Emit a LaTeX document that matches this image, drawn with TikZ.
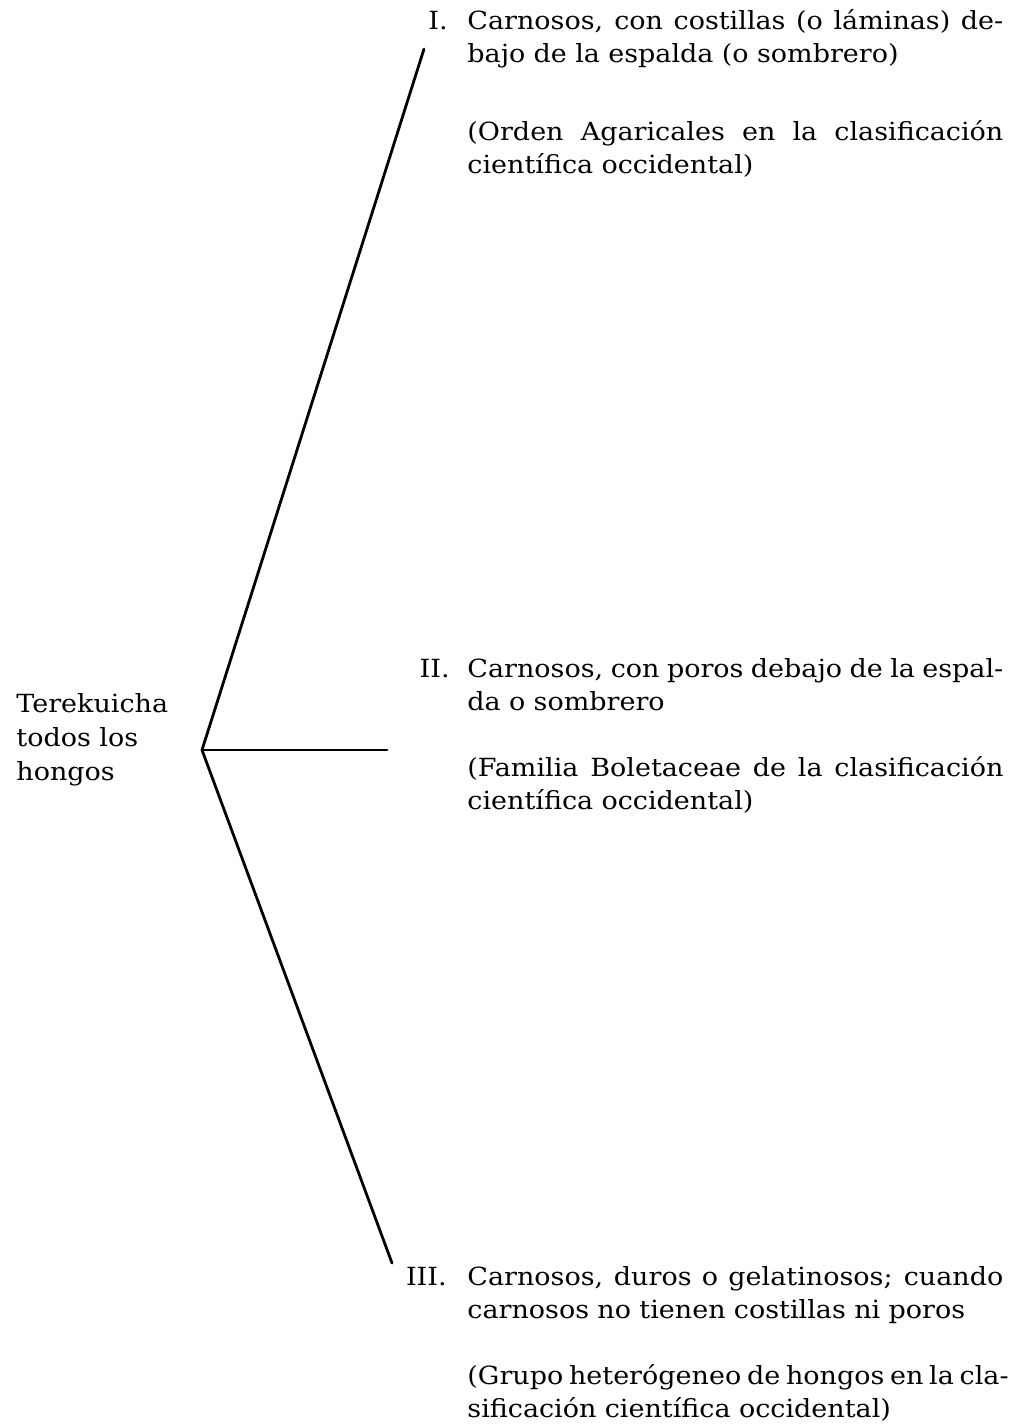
\documentclass[tikz,border=0pt]{standalone}
\usepackage{fontspec}
\setmainfont{DejaVu Serif}[FakeStretch=1.08]
\usepackage{tikz}

\newcommand{\renglon}[1]{\noindent\hbox to 268pt{\spaceskip=0pt\xspaceskip=0pt #1}}

\tikzset{
  letra/.style={font=\fontsize{12.5}{16.8}\selectfont},
  texto/.style={letra,anchor=base west,inner sep=0pt,text width=268pt,align=left},
  numero/.style={letra,anchor=base east,inner sep=0pt},
  rama/.style={line width=1.4pt,line cap=round}
}

\begin{document}
\begin{tikzpicture}[x=0.5pt,y=-0.5pt]
        \useasboundingbox (0,0) rectangle (1025,1425);
        \node (raiz) at (16,780) [letra,anchor=base west,inner sep=0pt,align=left] {Terekuicha\\todos los\\hongos};
        \coordinate (centro) at (202,750);
        \node (n1) at (448,29) [numero] {I.};
        \node (t1) at (467,29) [texto] {\renglon{Carnosos, con costillas (o láminas) de-}\\bajo de la espalda (o sombrero)\\[22pt]
          \renglon{(Orden Agaricales en la clasificación}\\científica occidental)};
        \node (n2) at (450,677) [numero] {II.};
        \node (t2) at (467,677) [texto] {\renglon{Carnosos, con poros debajo de la espal-}\\da o sombrero\\[16pt]
          \renglon{(Familia Boletaceae de la clasificación}\\científica occidental)};
        \node (n3) at (447,1285) [numero] {III.};
        \node (t3) at (467,1285) [texto] {\renglon{Carnosos, duros o gelatinosos; cuando}\\carnosos no tienen costillas ni poros\\[16pt]
          \renglon{(Grupo heterógeneo de hongos en la cla-}\\sificación científica occidental)};
        \coordinate (f1) at (424,49);
        \coordinate (f2) at (387,750);
        \coordinate (f3) at (392,1263);
        \draw [rama] (centro) -- (f1);
        \draw [rama] (centro) -- (f2);
        \draw [rama] (centro) -- (f3);
      \end{tikzpicture}
\end{document}
